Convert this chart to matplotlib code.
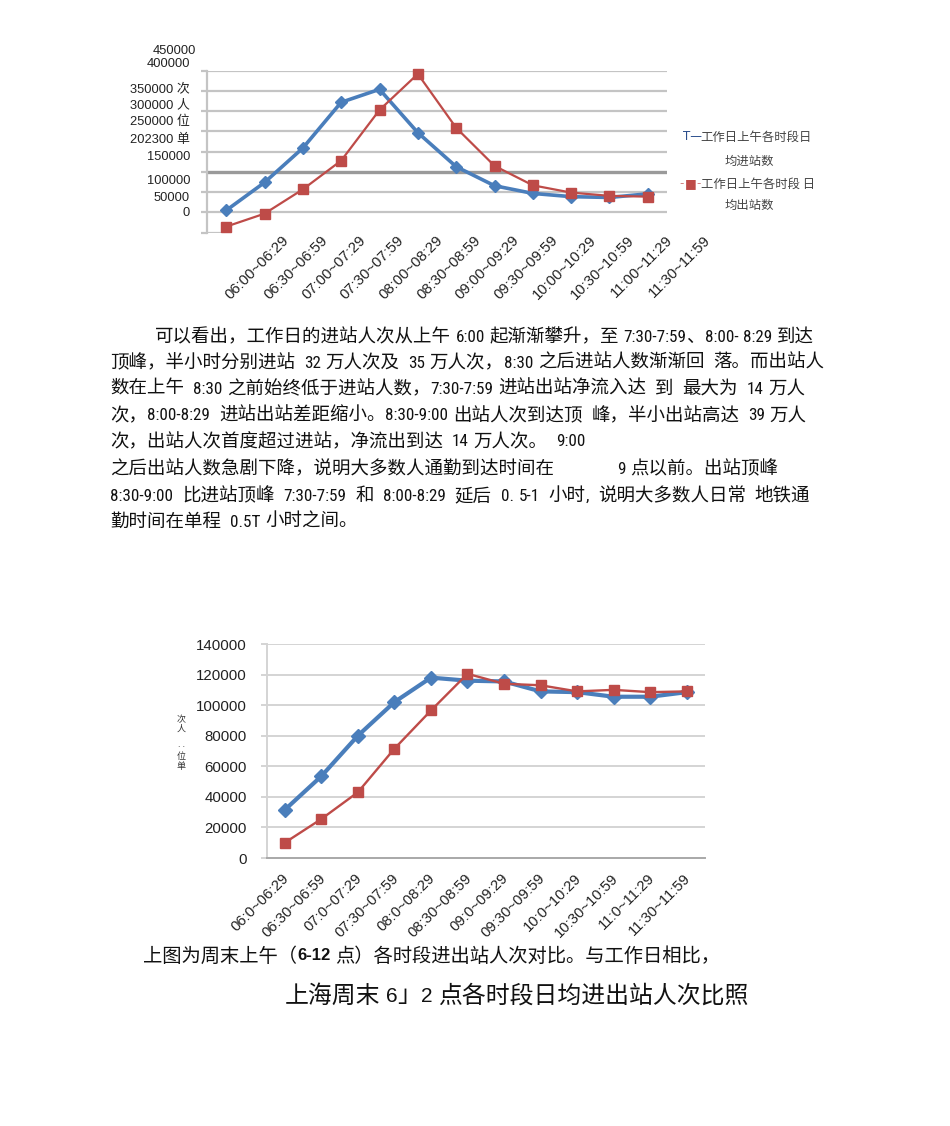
import re
import matplotlib
matplotlib.use("Agg")
import matplotlib.pyplot as plt
from matplotlib import font_manager
from matplotlib.transforms import ScaledTranslation

W, H = 950, 1126
CJK = ['Noto Sans CJK SC', 'DejaVu Sans']
NUM = ['Liberation Sans', 'Noto Sans CJK SC']

_names = {f.name for f in font_manager.fontManager.ttflist}
NARROW = None
for cand in ['Liberation Sans Narrow', 'Roboto Condensed', 'Open Sans Condensed',
             'DejaVu Sans Condensed']:
    if cand in _names:
        NARROW = cand
        break
PNUM = [NARROW, 'Noto Sans CJK SC'] if NARROW else NUM
PNUM_SIZE = 12.3 if NARROW else 10.8

# ---------------- data ----------------
slots_wd = ["06:00~06:29", "06:30~06:59", "07:00~07:29", "07:30~07:59",
            "08:00~08:29", "08:30~08:59", "09:00~09:29", "09:30~09:59",
            "10:00~10:29", "10:30~10:59", "11:00~11:29", "11:30~11:59"]
wd_in = [55000, 124000, 209000, 322000, 354000, 247000, 163000, 116000,
         97000, 89000, 87000, 96000]
wd_out = [15000, 47000, 107000, 178000, 303000, 392000, 259000, 165000,
          117000, 99000, 91000, 89000]
wd_ylabels = ["450000", "400000", "350000 次", "300000 人", "250000 位",
              "202300 单", "150000", "100000", "50000", "0"]
wd_legend = ["工作日上午各时段日", "均进站数", "工作日上午各时段 日", "均出站数"]

slots_we = ["06:0~06:29", "06:30~06:59", "07:0~07:29", "07:30~07:59",
            "08:0~08:29", "08:30~08:59", "09:0~09:29", "09:30~09:59",
            "10:0~10:29", "10:30~10:59", "11:0~11:29", "11:30~11:59"]
we_in = [31500, 53500, 80000, 102000, 118000, 116000, 115500, 109000,
         108500, 105500, 105500, 108500]
we_out = [10000, 25500, 43000, 71500, 96500, 120500, 114000, 113000,
          109000, 110000, 108500, 109000]
we_yticks = [0, 20000, 40000, 60000, 80000, 100000, 120000, 140000]

para = [
    "可以看出，工作日的进站人次从上午 6:00 起渐渐攀升，至 7:30-7:59、8:00- 8:29 到达",
    "顶峰，半小时分别进站  32 万人次及  35 万人次，8:30 之后进站人数渐渐回  落。而出站人",
    "数在上午  8:30 之前始终低于进站人数，7:30-7:59 进站出站净流入达  到  最大为  14 万人",
    "次，8:00-8:29  进站出站差距缩小。8:30-9:00 出站人次到达顶  峰，半小出站高达  39 万人",
    "次，出站人次首度超过进站，净流出到达  14 万人次。  9:00",
    "之后出站人数急剧下降，说明大多数人通勤到达时间在              9 点以前。出站顶峰",
    "8:30-9:00  比进站顶峰  7:30-7:59  和  8:00-8:29  延后  0. 5-1  小时,  说明大多数人日常  地铁通",
    "勤时间在单程  0.5T 小时之间。",
]
caption1 = "上图为周末上午（6-12 点）各时段进出站人次对比。与工作日相比，"
caption2 = "上海周末 6」2 点各时段日均进出站人次比照"

BLUE = '#4A7EBB'
RED = '#BE4B48'

fig = plt.figure(figsize=(W / 100, H / 100), dpi=100)
fig.patch.set_facecolor('white')
renderer = fig.canvas.get_renderer()


def fx(x):
    return x / W


def fy(y):
    return 1 - y / H


def axes_px(x0, y0, x1, y1):
    return fig.add_axes([x0 / W, 1 - y1 / H, (x1 - x0) / W, (y1 - y0) / H])


def text_width(s, **kw):
    t = fig.text(0, 0, s + '中', **kw)
    r = fig.text(0, 0, '中', **kw)
    w = t.get_window_extent(renderer).width - r.get_window_extent(renderer).width
    t.remove()
    r.remove()
    return w


def draw_mixed(x, y, line, cjk_size, num_size, space_px, color='#111111',
               num_family=None, bold_num=False):
    for tok in re.findall(r' +|[\x21-\x7e]+|[^\x00-\x7f]+', line):
        if tok[0] == ' ':
            x += space_px * len(tok)
            continue
        if ord(tok[0]) < 128:
            kw = dict(fontsize=num_size, family=num_family or NUM, color=color,
                      weight='bold' if bold_num else 'normal')
        else:
            kw = dict(fontsize=cjk_size, family=CJK, color=color)
        fig.text(fx(x), fy(y), tok, ha='left', va='center', **kw)
        x += text_width(tok, **kw)


# ---------------- chart 1 (weekday) ----------------
ax1 = axes_px(207, 70.7, 667, 232.7)
ax1.set_xlim(-0.5, 11.5)
ax1.set_ylim(0, 400000)
for v in range(50000, 400001, 50000):
    if v == 150000:
        ax1.axhline(v, color='#9A9A9A', lw=2.4, zorder=1)
    else:
        ax1.axhline(v, color='#C4C4C4', lw=1.6, zorder=1)
ax1.axhline(0, xmin=0, xmax=19 / 460, color='#C4C4C4', lw=1.6, zorder=1)
for s in ['top', 'right', 'bottom']:
    ax1.spines[s].set_visible(False)
ax1.spines['left'].set_color('#C4C4C4')
ax1.spines['left'].set_linewidth(1.6)
ax1.set_yticks(range(0, 400001, 50000))
ax1.tick_params(axis='y', length=4, width=1.6, color='#C4C4C4', labelleft=False)
ax1.set_xticks([])
x1 = list(range(len(slots_wd)))
ax1.plot(x1, wd_in, color=BLUE, lw=2.6, marker='D', ms=6.5, zorder=3, clip_on=False)
ax1.plot(x1, wd_out, color=RED, lw=1.6, marker='s', ms=6.5, zorder=4, clip_on=False)

ylab_pos = [(196, 50.7), (190, 64), (190, 89), (190, 105), (190, 122),
            (190, 139.5), (190, 157.5), (190, 180.7), (190, 198.3), (190, 212.7)]
for lab, (xx, yy) in zip(wd_ylabels, ylab_pos):
    fig.text(fx(xx), fy(yy), lab, ha='right', va='center', fontsize=9.3,
             family=NUM, color='#222222')

for i, lab in enumerate(slots_wd):
    fig.text(fx(287 + 38.33 * i), fy(238), lab, rotation=45, rotation_mode='anchor',
             ha='right', va='center', fontsize=10.7, family=NUM, color='#222222')

# legend texts
fig.text(fx(683), fy(137), "T—", ha='left', va='center', fontsize=8.5,
         family=['DejaVu Sans'], color='#2B4E8C')
fig.text(fx(700), fy(137), wd_legend[0], ha='left', va='center', fontsize=8.9,
         family=CJK, color='#444444')
fig.text(fx(725), fy(161.7), wd_legend[1], ha='left', va='center', fontsize=8.9,
         family=CJK, color='#444444')
fig.text(fx(679), fy(184), "-", ha='left', va='center', fontsize=8.5,
         family=['DejaVu Sans'], color='#D08080')
fig.text(fx(685), fy(184), "■", ha='left', va='center', fontsize=9,
         family=['DejaVu Sans'], color=RED)
fig.text(fx(696), fy(184), "-", ha='left', va='center', fontsize=8.5,
         family=['DejaVu Sans'], color='#D08080')
fig.text(fx(701), fy(184), wd_legend[2], ha='left', va='center', fontsize=8.9,
         family=CJK, color='#444444')
fig.text(fx(725), fy(205), wd_legend[3], ha='left', va='center', fontsize=8.9,
         family=CJK, color='#444444')

# ---------------- paragraph ----------------
line_y = [337, 363, 389, 416, 442, 469, 496, 522]
for k, (txt, yy) in enumerate(zip(para, line_y)):
    xx = 155 if k == 0 else 110
    draw_mixed(xx, yy, txt, 13.3, PNUM_SIZE, 4.5, num_family=PNUM)

# ---------------- chart 2 (weekend) ----------------
ax2 = axes_px(266.5, 644, 705, 858)
ax2.set_xlim(-0.5, 11.5)
ax2.set_ylim(0, 140000)
for v in we_yticks[1:]:
    ax2.axhline(v, color='#D4D4D4', lw=1.4, zorder=1)
for s in ['top', 'right']:
    ax2.spines[s].set_visible(False)
ax2.spines['left'].set_color('#D4D4D4')
ax2.spines['left'].set_linewidth(1.4)
ax2.spines['bottom'].set_color('#A8A8A8')
ax2.spines['bottom'].set_linewidth(1.4)
ax2.set_yticks(we_yticks)
ax2.set_yticklabels([str(v) for v in we_yticks], family=NUM, fontsize=10.8,
                    color='#222222')
ax2.tick_params(axis='y', length=4.3, width=1.4, color='#D4D4D4', pad=10)
x2 = list(range(len(slots_we)))
ax2.set_xticks(x2)
ax2.set_xticklabels(slots_we, rotation=45, rotation_mode='anchor', ha='right',
                    va='center', family=NUM, fontsize=10.7, color='#222222')
ax2.tick_params(axis='x', length=0, pad=13)
for lab in ax2.get_xticklabels():
    lab.set_transform(lab.get_transform() + ScaledTranslation(2 / 100, 0, fig.dpi_scale_trans))
ax2.plot(x2, we_in, color=BLUE, lw=3.0, marker='D', ms=7, zorder=3, clip_on=False)
ax2.plot(x2, we_out, color=RED, lw=1.7, marker='s', ms=7.5, zorder=4, clip_on=False)

# vertical unit label
for ch, yy in [("次", 720), ("人", 729), ("‥", 748), ("位", 757), ("单", 767)]:
    fig.text(fx(180.7), fy(yy), ch, ha='center', va='center', fontsize=6.5,
             family=CJK, color='#333333')

# ---------------- captions ----------------
draw_mixed(143, 956, caption1, 13.9, 12.0, 4.5, bold_num=True)
draw_mixed(285, 996, caption2, 17.2, 15.0, 5.5)

fig.savefig("out.png", dpi=100, facecolor='white')
